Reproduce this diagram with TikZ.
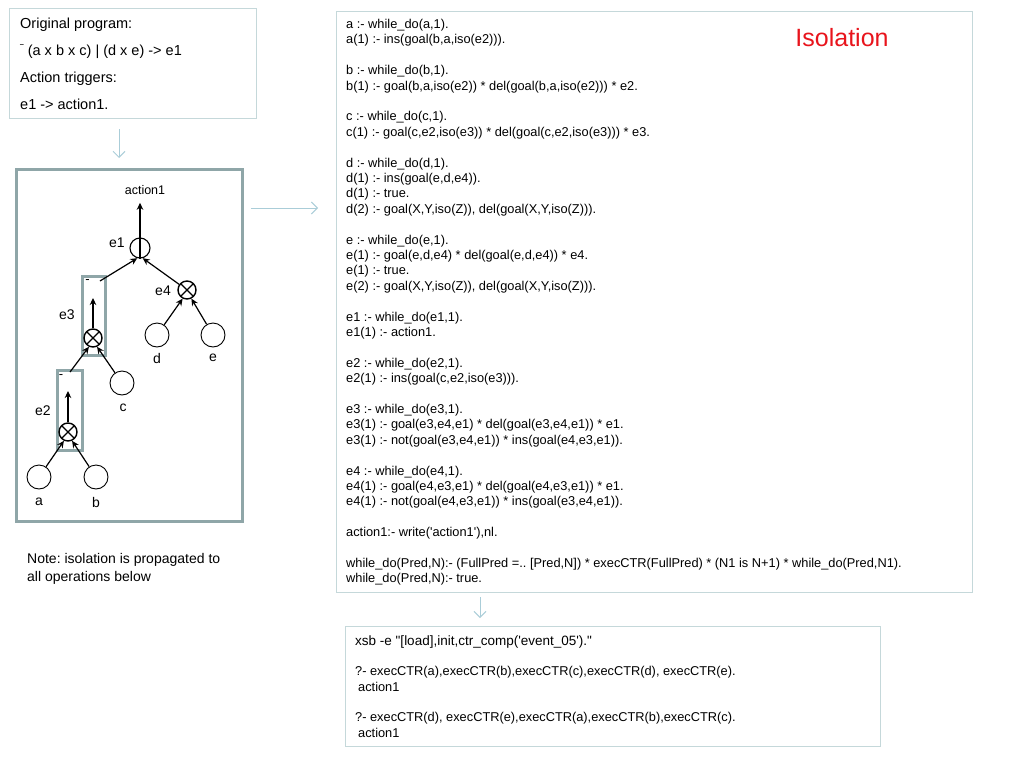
\documentclass[tikz,border=0pt]{standalone}
\usepackage{fontspec}
\setmainfont{Liberation Sans}
\usetikzlibrary{arrows.meta}
\definecolor{boxline}{HTML}{C5D8DA}
\definecolor{treeline}{HTML}{8FA6A8}
\definecolor{flow}{HTML}{AACDD8}
\definecolor{isored}{HTML}{E8141C}
\frenchspacing
\begin{document}
\begin{tikzpicture}[x=1pt,y=-1pt,
 lightbox/.style={draw=boxline, line width=1pt, inner sep=0},
 treebox/.style={draw=treeline, line width=2.8pt, inner sep=0},
 flowarrow/.style={draw=flow, line width=1pt, -{Straight Barb[length=6pt,width=12pt]}},
 leaf/.style={circle, draw, line width=0.9pt, minimum size=24pt, inner sep=0},
 otimes/.style={circle, draw, line width=1.4pt, minimum size=18pt, inner sep=0,
   path picture={\draw[line width=1.4pt] (path picture bounding box.north west)--(path picture bounding box.south east) (path picture bounding box.north east)--(path picture bounding box.south west);}},
 lab/.style={font=\fontsize{14}{16}\selectfont, inner sep=0},
 edge/.style={line width=1.2pt, -{Stealth[length=7pt,width=6.5pt]}},
 codetxt/.style={anchor=north west, inner sep=0, align=left, font=\fontsize{12.8}{15.4}\selectfont}
]
\useasboundingbox (0,0) rectangle (1024,768);

% top-left box
\node[lightbox, minimum width=247pt, minimum height=110pt, anchor=north west] (origbox) at (9,8) {};
\node[anchor=north west, inner sep=0, align=left, font=\fontsize{14.5}{27}\selectfont] (origtxt) at (20,17.5)
 {Original program:\\ \scalebox{0.45}[1]{¯} (a x b x c) | (d x e) -> e1\\ Action triggers:\\ e1 -> action1.};

% tree box
\node[treebox, minimum width=226pt, minimum height=352pt, anchor=north west] (treebox) at (15,168) {};

% code box
\node[lightbox, minimum width=636pt, minimum height=581pt, anchor=north west] (codebox) at (336,11) {};
\node[codetxt] (code) at (346,19) {%
a :- while\_do(a,1).\\
a(1) :- ins(goal(b,a,iso(e2))).\\[15.4pt]
b :- while\_do(b,1).\\
b(1) :- goal(b,a,iso(e2)) * del(goal(b,a,iso(e2))) * e2.\\[15.4pt]
c :- while\_do(c,1).\\
c(1) :- goal(c,e2,iso(e3)) * del(goal(c,e2,iso(e3))) * e3.\\[15.4pt]
d :- while\_do(d,1).\\
d(1) :- ins(goal(e,d,e4)).\\
d(1) :- true.\\
d(2) :- goal(X,Y,iso(Z)), del(goal(X,Y,iso(Z))).\\[15.4pt]
e :- while\_do(e,1).\\
e(1) :- goal(e,d,e4) * del(goal(e,d,e4)) * e4.\\
e(1) :- true.\\
e(2) :- goal(X,Y,iso(Z)), del(goal(X,Y,iso(Z))).\\[15.4pt]
e1 :- while\_do(e1,1).\\
e1(1) :- action1.\\[15.4pt]
e2 :- while\_do(e2,1).\\
e2(1) :- ins(goal(c,e2,iso(e3))).\\[15.4pt]
e3 :- while\_do(e3,1).\\
e3(1) :- goal(e3,e4,e1) * del(goal(e3,e4,e1)) * e1.\\
e3(1) :- not(goal(e3,e4,e1)) * ins(goal(e4,e3,e1)).\\[15.4pt]
e4 :- while\_do(e4,1).\\
e4(1) :- goal(e4,e3,e1) * del(goal(e4,e3,e1)) * e1.\\
e4(1) :- not(goal(e4,e3,e1)) * ins(goal(e3,e4,e1)).\\[15.4pt]
action1:- write(\textquotesingle action1\textquotesingle),nl.\\[15.4pt]
while\_do(Pred,N):- (FullPred =.. [Pred,N]) * execCTR(FullPred) * (N1 is N+1) * while\_do(Pred,N1).\\
while\_do(Pred,N):- true.};
\node[text=isored, inner sep=0, font=\fontsize{25}{30}\selectfont] (iso) at (842,38) {Isolation};

% output box
\node[lightbox, minimum width=535pt, minimum height=120pt, anchor=north west] (outbox) at (345,626) {};
\node[anchor=base west, inner sep=0, font=\fontsize{13.5}{16}\selectfont] (xsb) at (355,645)
 {xsb -e \textquotedbl[load],init,ctr\_comp(\textquotesingle event\_05\textquotesingle).\textquotedbl};
\node[anchor=base west, inner sep=0, font=\fontsize{12.8}{15.4}\selectfont] (q1) at (355,675)
 {?- execCTR(a),execCTR(b),execCTR(c),execCTR(d), execCTR(e).};
\node[anchor=base west, inner sep=0, font=\fontsize{12.8}{15.4}\selectfont] (r1) at (358,691) {action1};
\node[anchor=base west, inner sep=0, font=\fontsize{12.8}{15.4}\selectfont] (q2) at (355,721)
 {?- execCTR(d), execCTR(e),execCTR(a),execCTR(b),execCTR(c).};
\node[anchor=base west, inner sep=0, font=\fontsize{12.8}{15.4}\selectfont] (r2) at (358,737) {action1};

% note
\node[anchor=north west, inner sep=0, align=left, font=\fontsize{14}{18}\selectfont] (note) at (27,553.5)
 {Note: isolation is propagated to\\all operations below};

% flow arrows
\coordinate (fa1) at ([xshift=110pt]origbox.south west);
\draw[flowarrow, shorten <=10pt, shorten >=10pt] (fa1) -- (fa1 |- treebox.north);
\coordinate (fa2) at ([yshift=-40pt]treebox.north east);
\draw[flowarrow, shorten <=7pt, shorten >=18pt] (fa2) -- (fa2 -| codebox.west);
\coordinate (fa3) at ([xshift=144pt]codebox.south west);
\draw[flowarrow, shorten <=4pt, shorten >=8pt] (fa3) -- (fa3 |- outbox.north);

% tree
\node[font=\fontsize{12.5}{14}\selectfont, inner sep=0] (act) at (145,190) {action1};
\node[circle, draw, line width=1.1pt, minimum size=20pt, inner sep=0] (e1) at (140,248) {};
\node[lab] (e1l) at (117,243) {e1};
\draw[edge, shorten >=8pt] (e1.south) -- (e1.south |- act.south);

\node[otimes] (e4) at (187,290) {};
\node[lab] (e4l) at (163,291) {e4};
\node[leaf] (d) at (157,335) {};
\node[leaf] (e) at (213,335) {};
\node[lab] (dl) at (157,358) {d};
\node[lab] (el) at (213,358) {e};
\draw[edge] (d) -- (e4.-117);
\draw[edge] (e) -- (e4.-63);
\draw[edge] (e4) -- (e1.-75);

% e3 isolation box
\node[treebox, minimum width=23pt, minimum height=79pt, anchor=north west] (e3box) at (81,275) {};
\node[otimes] (e3x) at (93,338) {};
\node[lab] (e3l) at (67,315) {e3};
\node[font=\fontsize{13}{14}\selectfont, inner sep=0] (e3neg) at (87.5,282) {-};
\coordinate (e3tip) at (93,298);
\draw[edge] (e3x) -- (e3tip);
\coordinate (e3c) at (100,281);
\draw[edge] (e3c) -- (e1.-105);

\node[leaf] (c) at (122,383) {};
\node[lab] (cl) at (123,408) {c};

% e2 isolation box
\node[treebox, minimum width=25pt, minimum height=80pt, anchor=north west] (e2box) at (56,369) {};
\node[otimes] (e2x) at (68,432) {};
\node[lab] (e2l) at (43,411) {e2};
\node[font=\fontsize{13}{14}\selectfont, inner sep=0] (e2neg) at (61,377) {-};
\coordinate (e2tip) at (68,391);
\draw[edge] (e2x) -- (e2tip);
\coordinate (e2c) at (70,372);
\draw[edge] (e2c) -- (e3x.-115);
\draw[edge] (c) -- (e3x.-65);

\node[leaf] (a) at (39,477) {};
\node[leaf] (b) at (96,477) {};
\node[lab] (al) at (39,502) {a};
\node[lab] (bl) at (96,502) {b};
\draw[edge] (a) -- (e2x.-115);
\draw[edge] (b) -- (e2x.-65);
\end{tikzpicture}
\end{document}
